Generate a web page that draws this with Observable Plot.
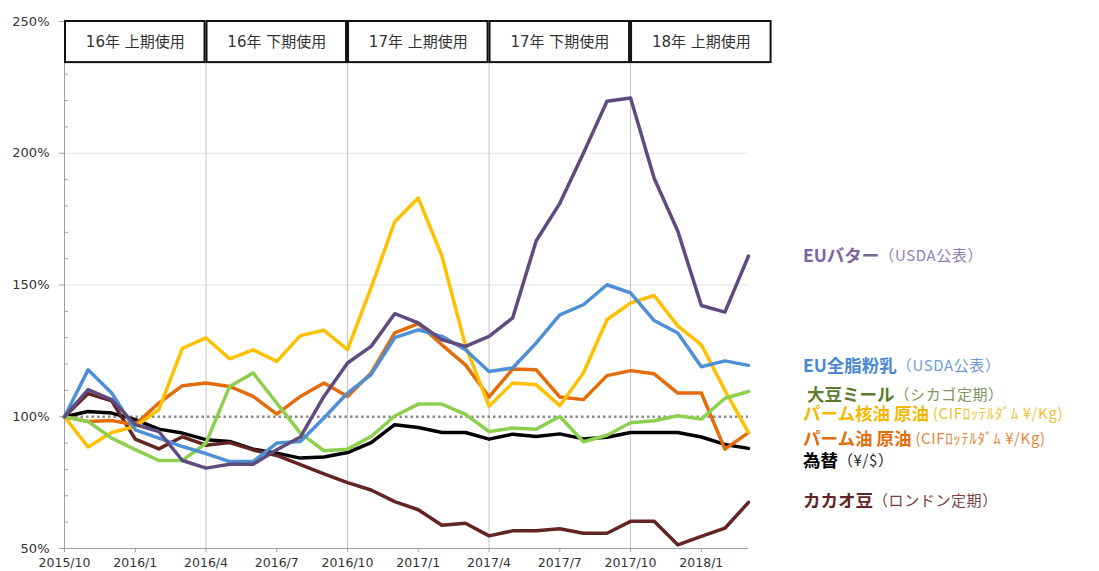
<!DOCTYPE html>
<html><head><meta charset="utf-8">
<script src="https://cdn.jsdelivr.net/npm/d3@7"></script>
<script src="https://cdn.jsdelivr.net/npm/@observablehq/plot@0.6"></script>
<style>
body{margin:0;background:#fff;}
#chart{width:1099px;height:571px;}
</style>
</head><body><div id="chart"></div>
<script>
// ---- data ----
const months = ["2015/10","2015/11","2015/12","2016/1","2016/2","2016/3","2016/4","2016/5","2016/6","2016/7","2016/8","2016/9",
  "2016/10","2016/11","2016/12","2017/1","2017/2","2017/3","2017/4","2017/5","2017/6","2017/7","2017/8","2017/9",
  "2017/10","2017/11","2017/12","2018/1","2018/2","2018/3"];
const butter = [100,110.3,106.5,97,94.4,83.4,80.5,82,82,87.5,92.3,107.7,120.4,126.7,139.1,135.6,129.2,126.7,130.5,137.5,166.8,181,200,219.7,221,190.5,170.5,142.2,139.7,161];
const milk   = [100,117.8,109,95,91.9,88.7,86,83,83,90,90.6,99.5,109,116,130,133,130.5,125.4,117.2,118.5,128,138.7,142.5,150.1,147,136.5,131.8,119,121.2,119.5];
const soy    = [100,98.2,91.9,87.5,83.4,83.4,90,111.5,116.6,105.2,93.8,87.1,87.7,92.5,100.3,104.8,104.8,100.9,94.4,95.7,95.3,100.1,90.5,93,97.7,98.5,100.4,99.1,107,109.6];
const kernel = [100,88.5,94,96.3,102.7,126,129.9,122,125.4,121,130.8,132.8,125.5,149,174,183,161,127,104,112.8,112.1,104.2,116.6,136.8,143.2,146,134.5,127.3,110,94];
const palm   = [100,98.2,98.6,97,105.2,111.8,112.8,111.5,107.7,101,107.7,112.8,107.7,116.6,131.8,135.3,127.3,119.7,107.5,118.1,117.8,107.5,106.5,115.6,117.5,116.3,109,109,87.7,94];
const fx     = [100,102,101.4,98.9,95.3,93.8,91.3,90.6,87.7,86.2,84.3,84.7,86.4,90.2,97,95.9,94,94,91.5,93.4,92.5,93.5,91.6,92.2,94,94,94,92.3,89.5,88];
const cocoa  = [100,108.8,106,91.5,87.8,92.4,89.2,90.2,87.4,85.3,81.8,78.3,75,72.2,67.8,64.7,58.8,59.6,54.8,56.7,56.7,57.5,55.8,55.8,60.3,60.3,51.4,54.6,57.7,67.5];

const periodLabels = ["16年 上期使用","16年 下期使用","17年 上期使用","17年 下期使用","18年 上期使用"];
const periodStarts = ["2015/10","2016/4","2016/10","2017/4","2017/10"];

const yMajor = [50,100,150,200,250];
const yMinor = [60,70,80,90,110,120,130,140,160,170,180,190,210,220,230,240];

// ---- series definitions (names & colours) ----
const series = [
  {name:"為替", note:"（¥/$）", values:fx, color:"#000000", text:"#000000", noteColor:"#222222", at:83.7},
  {name:"カカオ豆", note:"（ロンドン定期）", values:cocoa, color:"#632523", text:"#632523", noteColor:"#7b4040", at:68.5},
  {name:"パーム油 原油", note:" (CIFﾛｯﾃﾙﾀﾞﾑ ¥/Kg)", values:palm, color:"#E46C0A", text:"#E46C0A", noteColor:"#e5873a", at:92},
  {name:"パーム核油 原油", note:" (CIFﾛｯﾃﾙﾀﾞﾑ ¥/Kg)", values:kernel, color:"#FFC000", text:"#F5B800", noteColor:"#f2bf30", at:101.5},
  {name:"大豆ミール", note:"（シカゴ定期）", values:soy, color:"#8DCF4E", text:"#5b7b2a", noteColor:"#7f9560", at:109, dx:4},
  {name:"EU全脂粉乳", note:"（USDA公表）", values:milk, color:"#4F8FD8", text:"#4a88d0", noteColor:"#6d9bd8", at:119.7},
  {name:"EUバター", note:"（USDA公表）", values:butter, color:"#5F4B7E", text:"#7a64a2", noteColor:"#8f80b2", at:161.5}
];

const idx = m => months.indexOf(m);
const periods = periodLabels.map((label, k) => ({
  label,
  start: idx(periodStarts[k]),
  end: k + 1 < periodStarts.length ? idx(periodStarts[k + 1]) : idx(periodStarts[k]) + 6
}));
const quarterTicks = months.map((m, i) => i).filter(i => [1,4,7,10].includes(+months[i].split("/")[1]));
const halfYearLines = periodStarts.slice(1).map(idx);

const chart = Plot.plot({
  width: 1099,
  height: 571,
  marginLeft: 64,
  marginRight: 351,
  marginTop: 21,
  marginBottom: 23,
  style: {fontFamily: "'DejaVu Sans','Noto Sans CJK JP',sans-serif", fontSize: "12.5px", color: "#333", background: "#fff"},
  x: {domain: [0, months.length - 1]},
  y: {domain: [50, 250]},
  marks: [
    Plot.ruleY([150, 200], {stroke: "#e2e2e2", strokeWidth: 1}),
    Plot.ruleX(halfYearLines, {y1: 50, y2: 250, stroke: "#c4c4c4", strokeWidth: 1}),
    Plot.ruleY([100], {stroke: "#8a8a8a", strokeWidth: 2.5, strokeDasharray: "2.5,3"}),
    Plot.ruleX([0], {y1: 50, y2: 250, stroke: "#a0a0a0"}),
    Plot.ruleY([50], {stroke: "#a0a0a0"}),
    Plot.axisY({ticks: yMajor, tickFormat: d => d + "%", tickSize: 5, tickPadding: 10, fontSize: 13, label: null, stroke: "#a0a0a0", color: "#333"}),
    Plot.axisY({ticks: yMinor, tickFormat: () => "", tickSize: 4, dx: 4, label: null, stroke: "#a0a0a0"}),
    Plot.axisX({ticks: quarterTicks, tickFormat: i => months[i], tickSize: 4, tickPadding: 6, fontSize: 12.5, label: null, stroke: "#a0a0a0"}),
    ...series.map(s => Plot.line(s.values, {x: (d, i) => i, y: d => d, stroke: s.color, strokeWidth: 3.5, curve: "linear"})),
    Plot.rect(periods, {x1: "start", x2: "end", y1: 250, y2: 234.4, fill: "white", stroke: "#111", strokeWidth: 2, insetLeft: 1, insetRight: 1}),
    Plot.text(periods, {x: d => (d.start + d.end) / 2, y: 242.2, text: "label", fontSize: 15, fill: "#333"})
  ]
});
document.getElementById("chart").appendChild(chart);

// ---- right-hand labels ----
const yS = chart.scale("y");
const xS = chart.scale("x");
const lx = xS.apply(months.length - 1) + 55;
const g = d3.select(chart).append("g")
  .attr("font-family", "'Noto Sans CJK JP','DejaVu Sans',sans-serif")
  .attr("text-anchor", "start");
series.forEach(s => {
  const t = g.append("text")
    .attr("x", lx + (s.dx || 0))
    .attr("y", yS.apply(s.at))
    .attr("text-anchor", "start")
    .attr("dominant-baseline", "central");
  t.append("tspan").attr("font-weight", 700).attr("font-size", 17.5).attr("fill", s.text).text(s.name);
  t.append("tspan").attr("font-size", 15).attr("letter-spacing", 0.6).attr("fill", s.noteColor).text(s.note);
});
</script>
</body></html>
